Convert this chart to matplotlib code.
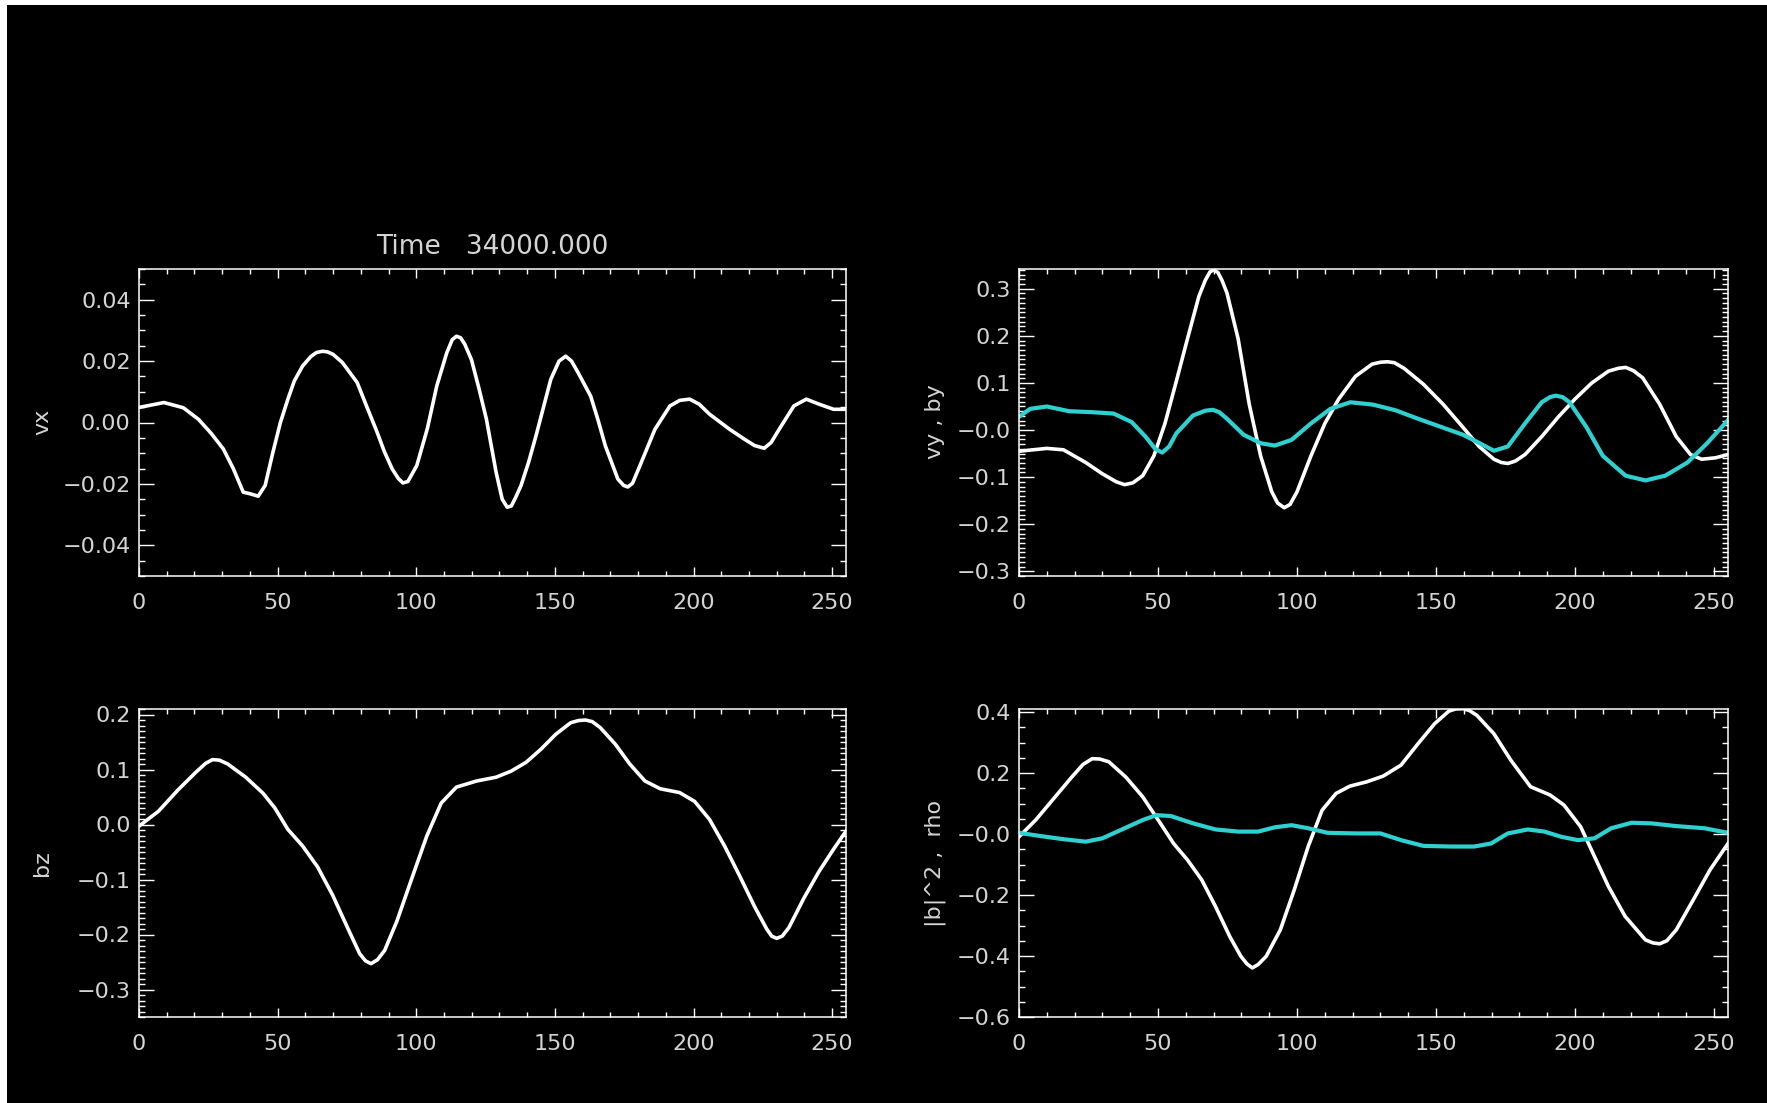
import matplotlib.pyplot as plt
from matplotlib.patches import Rectangle
from matplotlib.ticker import MultipleLocator, FixedLocator, FixedFormatter

# ---- data ----
vx_x = [0, 9, 16, 21.5, 26, 30.4, 34, 37.6, 40, 43, 45.5, 48.3, 51, 53.7, 56, 59, 62, 64, 66.2, 68,
        70, 73.4, 78.7, 82, 85.9, 88.5, 91.3, 93.5, 95.2, 97, 100.2, 104, 107.4, 111, 113, 114.5,
        116, 117.5, 119.9, 122.5, 125.3, 128.8, 131, 132.8, 134.3, 135.8, 137.8, 140.5, 143.2,
        148.5, 151.5, 153.9, 156, 158.4, 162.9, 165.5, 168.2, 172.7, 174.8, 176.3, 178, 180.7,
        186.1, 191.5, 195, 198.6, 202, 205.8, 213, 218.3, 222, 225.5, 228, 230.9, 236.2, 240.7,
        245.2, 250.5, 255]
vx = [0.0049, 0.0065, 0.0048, 0.001, -0.0035, -0.0086, -0.0150, -0.0227, -0.0232, -0.024, -0.0205,
      -0.0097, 0.0000, 0.0076, 0.0135, 0.0184, 0.0215, 0.0228, 0.0232, 0.0230,
      0.0222, 0.0195, 0.013, 0.0055, -0.0032, -0.0095, -0.0151, -0.0182, -0.0197, -0.0192,
      -0.014, -0.0020, 0.0119, 0.0227, 0.0270, 0.0281, 0.0276, 0.0255, 0.0205, 0.0115, 0.0011,
      -0.0162, -0.0250, -0.0276, -0.0272, -0.0245, -0.0205, -0.0130, -0.0043, 0.014, 0.0200,
      0.0216, 0.0200, 0.0162, 0.0086, 0.0010, -0.0076, -0.0184, -0.0205, -0.021, -0.0198,
      -0.014, -0.0022, 0.0054, 0.0072, 0.0076, 0.0060, 0.0027, -0.0022, -0.0054, -0.0075,
      -0.0084, -0.0065, -0.0022, 0.0054, 0.0076, 0.006, 0.0043, 0.0043]

vy_x = [0, 10, 16, 24, 30, 35, 38, 41, 44.5, 48.5, 52.5, 56.6, 60.6, 64.7, 67, 68.7, 70, 71.5, 73,
        74.8, 78.8, 82.8, 86.9, 90.9, 93, 95.4, 97.5, 100, 105, 110, 115, 121, 127, 130, 132.5,
        135, 138.5, 145.5, 152.5, 159.5, 165.5, 170.8, 173.5, 175.8, 178.5, 182, 188, 194, 200,
        206, 212, 215.5, 218.2, 221, 224.3, 230.4, 236.4, 241.5, 245.5, 250.5, 255]
vy = [-0.045, -0.039, -0.042, -0.069, -0.093, -0.110, -0.116, -0.112, -0.097, -0.055, 0.014, 0.104,
      0.194, 0.284, 0.318, 0.336, 0.340, 0.335, 0.318, 0.291, 0.194, 0.055, -0.055, -0.131,
      -0.155, -0.165, -0.158, -0.131, -0.055, 0.014, 0.066, 0.114, 0.140, 0.144, 0.145, 0.143,
      0.131, 0.097, 0.055, 0.007, -0.035, -0.062, -0.069, -0.071, -0.066, -0.052, -0.014, 0.028,
      0.066, 0.100, 0.125, 0.131, 0.133, 0.126, 0.111, 0.055, -0.014, -0.052, -0.062, -0.059,
      -0.052]

by_x = [0, 4, 10, 18, 26, 34, 40.5, 45.5, 49, 51.5, 54, 56.6, 62.6, 67, 69.7, 72, 74.8, 80.8, 86.9,
        92, 98, 105, 112, 119.2, 127.3, 135.4, 143.5, 151.6, 159.7, 165.7, 170.8, 175.8, 182, 188,
        191, 193, 195.5, 198, 204, 210, 218.2, 225.3, 232.4, 240.4, 247.5, 255]
by = [0.028, 0.045, 0.050, 0.040, 0.038, 0.035, 0.017, -0.014, -0.040, -0.048, -0.035, -0.007, 0.031,
      0.041, 0.043, 0.038, 0.024, -0.010, -0.028, -0.033, -0.021, 0.014, 0.045, 0.059, 0.054,
      0.042, 0.024, 0.007, -0.010, -0.028, -0.044, -0.035, 0.014, 0.059, 0.070, 0.073, 0.070,
      0.059, 0.007, -0.055, -0.097, -0.107, -0.097, -0.069, -0.028, 0.021]

bz_x = [0, 7, 14, 20.5, 24, 26.5, 29, 32, 38.5, 44.7, 49, 53.7, 59, 64.4, 69.8, 75.2, 79.6, 81.7,
        83.7, 86, 88.6, 93, 98.4, 103.8, 109, 114.5, 121.7, 128.8, 134.2, 139.6, 145, 150.3, 155.7,
        158.5, 161, 163.5, 166.4, 171.8, 177, 182.5, 188, 195, 200.4, 205.8, 211.2, 216.5, 222,
        226.4, 228.2, 230, 232, 234.4, 239.8, 245.2, 250.5, 255]
bz = [-0.003, 0.024, 0.0625, 0.095, 0.111, 0.118, 0.117, 0.110, 0.086, 0.057, 0.030, -0.009, -0.039,
      -0.077, -0.128, -0.1875, -0.235, -0.248, -0.253, -0.246, -0.229, -0.176, -0.098, -0.021,
      0.039, 0.068, 0.079, 0.086, 0.097, 0.113, 0.137, 0.164, 0.185, 0.189, 0.190, 0.187, 0.176,
      0.146, 0.110, 0.079, 0.065, 0.058, 0.042, 0.009, -0.039, -0.092, -0.149, -0.190, -0.203,
      -0.207, -0.203, -0.1875, -0.134, -0.086, -0.045, -0.012]

b2_x = [0, 6, 12, 19, 23, 26.3, 29, 32.3, 38.4, 44.5, 50.5, 55.6, 60.6, 65.7, 70.7, 75.8, 79.8, 82,
        83.9, 86, 88.9, 94, 99, 104, 109, 114, 119, 125, 131, 137.4, 143.5, 149.5, 154.6, 157,
        159.7, 162, 164.7, 170.8, 176.9, 184, 191, 196, 202, 207, 212, 218, 225.3, 228, 230.4,
        233, 236.4, 242.5, 248.5, 255]
b2 = [-0.009, 0.046, 0.111, 0.187, 0.228, 0.247, 0.246, 0.237, 0.187, 0.122, 0.040, -0.031, -0.085,
      -0.150, -0.238, -0.336, -0.401, -0.426, -0.439, -0.428, -0.401, -0.314, -0.183, -0.041,
      0.078, 0.133, 0.157, 0.171, 0.190, 0.226, 0.296, 0.362, 0.403, 0.410, 0.411, 0.405, 0.389,
      0.329, 0.242, 0.155, 0.128, 0.095, 0.024, -0.074, -0.172, -0.270, -0.347, -0.357, -0.360,
      -0.350, -0.314, -0.216, -0.118, -0.031]

rho_x = [0, 8, 16, 24, 30, 38, 44.5, 49.5, 54.6, 62.6, 70.7, 78.8, 86, 92, 98, 104, 111, 121, 130,
         137.4, 145.5, 155.6, 163.7, 169.8, 175.8, 183, 189, 195, 201, 207, 213, 220.3, 227.4,
         236.4, 246.5, 255]
rho = [0.004, -0.007, -0.017, -0.025, -0.014, 0.019, 0.046, 0.062, 0.059, 0.035, 0.015, 0.008,
       0.008, 0.022, 0.029, 0.019, 0.004, 0.002, 0.002, -0.020, -0.039, -0.041, -0.041, -0.031,
       0.002, 0.015, 0.008, -0.009, -0.020, -0.014, 0.019, 0.037, 0.035, 0.026, 0.019, 0.004]

x_ticks = [0, 50, 100, 150, 200, 250]

vx_ticks = [-0.04, -0.02, 0.0, 0.02, 0.04]
vx_labels = ['\u22120.04', '\u22120.02', '0.00', '0.02', '0.04']
vy_ticks = [-0.3, -0.2, -0.1, 0.0, 0.1, 0.2, 0.3]
vy_labels = ['\u22120.3', '\u22120.2', '\u22120.1', '\u22120.0', '0.1', '0.2', '0.3']
bz_ticks = [-0.3, -0.2, -0.1, 0.0, 0.1, 0.2]
bz_labels = ['\u22120.3', '\u22120.2', '\u22120.1', '0.0', '0.1', '0.2']
b2_ticks = [-0.6, -0.4, -0.2, 0.0, 0.2, 0.4]
b2_labels = ['\u22120.6', '\u22120.4', '\u22120.2', '\u22120.0', '0.2', '0.4']

W, H = 1767, 1103
CYAN = '#2fd0d0'
TXT = '#d4d4d4'

plt.rcParams['font.family'] = ['DejaVu Sans']

fig = plt.figure(figsize=(W / 100, H / 100), dpi=100, facecolor='black')

# thin white strips on the top and left edges of the original
fig.patches.append(Rectangle((0, 1 - 5 / H), 1, 5 / H, transform=fig.transFigure,
                             facecolor='white', edgecolor='none'))
fig.patches.append(Rectangle((0, 0), 7 / W, 1, transform=fig.transFigure,
                             facecolor='white', edgecolor='none'))


def make_ax(left, top, right, bottom, ylim, yt, ylab, yminor):
    ax = fig.add_axes([left / W, 1 - bottom / H, (right - left) / W, (bottom - top) / H])
    ax.set_facecolor('black')
    for s in ax.spines.values():
        s.set_color('white')
        s.set_linewidth(1.1)
    ax.set_xlim(0, 255)
    ax.set_ylim(*ylim)
    ax.xaxis.set_major_locator(FixedLocator(x_ticks))
    ax.xaxis.set_minor_locator(MultipleLocator(10))
    ax.yaxis.set_major_locator(FixedLocator(yt))
    ax.yaxis.set_major_formatter(FixedFormatter(ylab))
    ax.yaxis.set_minor_locator(MultipleLocator(yminor))
    ax.tick_params(which='both', direction='in', top=True, right=True, colors='white',
                   labelcolor=TXT, labelsize=16, width=1.0)
    ax.tick_params(axis='x', which='major', length=6.5, pad=12)
    ax.tick_params(axis='x', which='minor', length=3.5)
    ax.tick_params(axis='y', which='major', length=11, pad=6)
    ax.tick_params(axis='y', which='minor', length=4.5)
    return ax


L1, R1 = 139, 846
L2, R2 = 1019, 1728
T1, B1 = 269, 576
T2, B2 = 709, 1017

ax1 = make_ax(L1, T1, R1, B1, (-0.05, 0.05), vx_ticks, vx_labels, 0.005)
ax1.plot(vx_x, vx, color='white', lw=2.6, solid_joinstyle='round')

ax2 = make_ax(L2, T1, R2, B1, (-0.31, 0.342), vy_ticks, vy_labels, 0.01)
ax2.plot(vy_x, vy, color='white', lw=2.6, solid_joinstyle='round')
ax2.plot(by_x, by, color=CYAN, lw=3.0, solid_joinstyle='round')

ax3 = make_ax(L1, T2, R1, B2, (-0.35, 0.21), bz_ticks, bz_labels, 0.01)
ax3.plot(bz_x, bz, color='white', lw=2.6, solid_joinstyle='round')

ax4 = make_ax(L2, T2, R2, B2, (-0.6, 0.41), b2_ticks, b2_labels, 0.05)
ax4.plot(b2_x, b2, color='white', lw=2.6, solid_joinstyle='round')
ax4.plot(rho_x, rho, color=CYAN, lw=3.0, solid_joinstyle='round')

# titles and axis labels
fig.text(492 / W, 1 - 247 / H, 'Time   34000.000', color=TXT, fontsize=19,
         ha='center', va='center')
fig.text(42 / W, 1 - 422 / H, 'vx', color=TXT, fontsize=16, rotation=90,
         ha='center', va='center')
fig.text(42 / W, 1 - 863 / H, 'bz', color=TXT, fontsize=16, rotation=90,
         ha='center', va='center')
fig.text(935 / W, 1 - 422 / H, 'vy , by', color=TXT, fontsize=16, rotation=90,
         ha='center', va='center')
fig.text(935 / W, 1 - 863 / H, '|b|^2 ,  rho', color=TXT, fontsize=16, rotation=90,
         ha='center', va='center')

fig.savefig('out.png', dpi=100, facecolor='black')
